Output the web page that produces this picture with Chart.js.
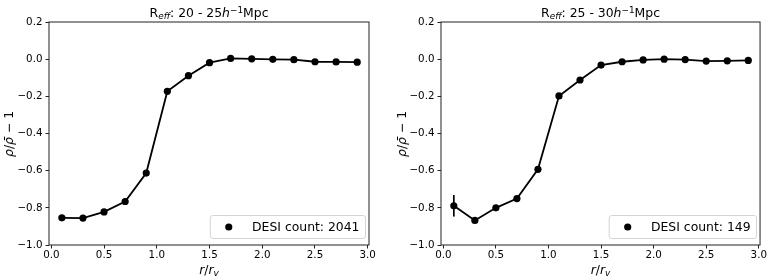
<!DOCTYPE html>
<html>
<head>
<meta charset="utf-8">
<script src="https://cdn.jsdelivr.net/npm/chart.js@4/dist/chart.umd.min.js"></script>
<style>
  body { margin:0; background:#fff; width:768px; height:277px; overflow:hidden; position:relative;
         font-family:"DejaVu Sans", sans-serif; color:#000; }
  .panel { position:absolute; top:0; width:384px; height:277px; }
  .panel canvas { position:absolute; left:0; top:0; }
  .lbl { position:absolute; white-space:nowrap; font-size:12.4px; line-height:12px; }
  .lbl sub { font-size:0.72em; vertical-align:-0.28em; line-height:0; font-style:italic; }
  .lbl sup { font-size:0.72em; vertical-align:0.45em; line-height:0; }
  .ttl { transform:translateX(-50%); }
  .xl { transform:translateX(-50%); }
  .yl { transform:translate(-50%,-50%) rotate(-90deg); }
</style>
</head>
<body>
<div class="panel" id="p0" style="left:0"><canvas id="c0" width="384" height="277"></canvas></div>
<div class="panel" id="p1" style="left:384px"><canvas id="c1" width="384" height="277"></canvas></div>
<script>
// ---- data ----
const rValues = [0.1, 0.3, 0.5, 0.7, 0.9, 1.1, 1.3, 1.5, 1.7, 1.9, 2.1, 2.3, 2.5, 2.7, 2.9];
const densityLeft  = [-0.854, -0.855, -0.822, -0.766, -0.613, -0.173, -0.089, -0.019, 0.004, 0.002, -0.001, -0.003, -0.014, -0.015, -0.016];
const errorsLeft   = [0.010, 0.008, 0.007, 0.007, 0.008, 0.008, 0.006, 0.005, 0.004, 0.004, 0.004, 0.004, 0.004, 0.004, 0.004];
const densityRight = [-0.789, -0.868, -0.800, -0.750, -0.593, -0.198, -0.112, -0.032, -0.014, -0.004, 0.000, -0.002, -0.010, -0.009, -0.007];
const errorsRight  = [0.058, 0.015, 0.012, 0.012, 0.014, 0.014, 0.010, 0.008, 0.007, 0.006, 0.006, 0.006, 0.006, 0.006, 0.006];
const xTicks = [0.0, 0.5, 1.0, 1.5, 2.0, 2.5, 3.0];
const yTicks = [-1.0, -0.8, -0.6, -0.4, -0.2, 0.0, 0.2];
const panelTitles = ['20 - 25', '25 - 30'];
const legendLabels = ['DESI count: 2041', 'DESI count: 149'];

const AX = '#222';
const fmt = v => { const s = Math.abs(v) < 1e-9 ? '0.0' : v.toFixed(1); return s.replace('-', '\u2212'); };

const frame = {
  id: 'frame',
  afterDraw(chart) {
    const a = chart.chartArea, ctx = chart.ctx;
    ctx.save(); ctx.strokeStyle = AX; ctx.lineWidth = 1;
    ctx.strokeRect(a.left, a.top, a.right - a.left, a.bottom - a.top);
    ctx.restore();
  }
};
const errbars = {
  id: 'errbars',
  beforeDatasetsDraw(chart) {
    const ctx = chart.ctx, xs = chart.scales.x, ys = chart.scales.y;
    chart.data.datasets.forEach(ds => {
      if (!ds.errors) return;
      ctx.save(); ctx.strokeStyle = '#000'; ctx.lineWidth = 1.7;
      ds.data.forEach((p, i) => {
        const e = ds.errors[i], px = xs.getPixelForValue(p.x);
        ctx.beginPath();
        ctx.moveTo(px, ys.getPixelForValue(p.y - e));
        ctx.lineTo(px, ys.getPixelForValue(p.y + e));
        ctx.stroke();
      });
      ctx.restore();
    });
  }
};
const boxLegend = {
  id: 'boxLegend',
  afterDraw(chart) {
    const a = chart.chartArea, ctx = chart.ctx;
    const label = chart.data.datasets[0].label;
    ctx.save();
    ctx.font = '12.4px "DejaVu Sans"';
    const tw = ctx.measureText(label).width;
    const h = 23, w = 18.5 + 23.3 + tw + 6;
    const right = a.right - 3.5, bottom = a.bottom - 6.5;
    const left = right - w, top = bottom - h;
    ctx.beginPath();
    ctx.roundRect(left, top, w, h, 2.5);
    ctx.fillStyle = 'rgba(255,255,255,0.8)'; ctx.fill();
    ctx.strokeStyle = '#d4d4d4'; ctx.lineWidth = 1; ctx.stroke();
    ctx.beginPath(); ctx.arc(left + 18.5, top + h / 2, 3.6, 0, Math.PI * 2);
    ctx.fillStyle = '#000'; ctx.fill();
    ctx.textBaseline = 'middle'; ctx.textAlign = 'left';
    ctx.fillText(label, left + 18.5 + 23.3, top + h / 2 + 0.5);
    ctx.restore();
  }
};

function makeChart(idx, values, errors, yWidth, padRight) {
  const data = rValues.map((r, i) => ({ x: r, y: values[i] }));
  const chart = new Chart(document.getElementById('c' + idx), {
    type: 'line',
    data: { datasets: [{
      label: legendLabels[idx], data, errors,
      borderColor: '#000', borderWidth: 1.8, backgroundColor: '#000',
      pointRadius: 3.6, pointHoverRadius: 3.6, pointBorderWidth: 0, tension: 0
    }]},
    options: {
      responsive: false, animation: false, devicePixelRatio: 1,
      layout: { padding: { left: 0, right: padRight, top: 22, bottom: 0 } },
      plugins: { legend: { display: false }, tooltip: { enabled: false }, title: { display: false } },
      scales: {
        x: {
          type: 'linear', min: -0.022, max: 3.012,
          afterBuildTicks: s => { s.ticks = xTicks.map(v => ({ value: v })); },
          afterFit: s => { s.height = 32; },
          grid: { drawOnChartArea: false, drawTicks: true, tickLength: 3.5, color: AX, lineWidth: 1 },
          border: { display: false },
          ticks: { padding: 1, color: '#000', font: { family: 'DejaVu Sans', size: 10.3 }, callback: v => fmt(v), maxRotation: 0, autoSkip: false }
        },
        y: {
          type: 'linear', min: -1.0, max: 0.2,
          afterBuildTicks: s => { s.ticks = yTicks.map(v => ({ value: v })); },
          afterFit: s => { s.width = yWidth; },
          grid: { drawOnChartArea: false, drawTicks: true, tickLength: 3.5, color: AX, lineWidth: 1 },
          border: { display: false },
          ticks: { padding: 3, color: '#000', font: { family: 'DejaVu Sans', size: 10.3 }, callback: v => fmt(v), autoSkip: false }
        }
      }
    },
    plugins: [errbars, frame, boxLegend]
  });
  const a = chart.chartArea, p = document.getElementById('p' + idx);
  const cx = (a.left + a.right) / 2, cy = (a.top + a.bottom) / 2;
  const t = document.createElement('div');
  t.className = 'lbl ttl';
  t.innerHTML = 'R<sub>eff</sub>: ' + panelTitles[idx] + '<i>h</i><sup>\u22121</sup>Mpc';
  t.style.left = cx + 'px'; t.style.top = '6.5px';
  p.appendChild(t);
  const xl = document.createElement('div');
  xl.className = 'lbl xl';
  xl.innerHTML = '<i>r</i>/<i>r</i><sub>v</sub>';
  xl.style.left = cx + 'px'; xl.style.top = '264px';
  p.appendChild(xl);
  const yl = document.createElement('div');
  yl.className = 'lbl yl';
  yl.innerHTML = '<i>\u03c1</i>/<i>\u03c1\u0304</i> \u2212 1';
  yl.style.left = (idx === 0 ? 8.5 : 17.5) + 'px'; yl.style.top = cy + 'px';
  p.appendChild(yl);
  return chart;
}
makeChart(0, densityLeft, errorsLeft, 49, 15);
makeChart(1, densityRight, errorsRight, 57, 7);
</script>
</body>
</html>
